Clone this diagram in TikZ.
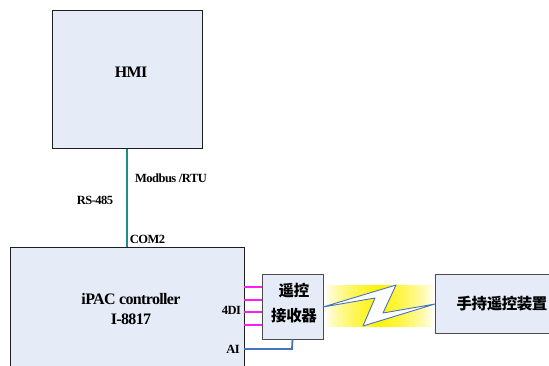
\documentclass[tikz,border=0pt]{standalone}
\usepackage{fontspec}
\setmainfont{Liberation Serif}[LetterSpace=-4]
\newfontfamily\cjk{Noto Sans CJK SC}[LetterSpace=-3]
\usetikzlibrary{positioning}
\definecolor{boxfill}{RGB}{230,236,247}
\definecolor{boxline}{RGB}{30,30,30}
\definecolor{softline}{RGB}{75,75,80}
\definecolor{busteal}{RGB}{30,140,135}
\definecolor{portpink}{RGB}{255,30,235}
\definecolor{boltblue}{RGB}{70,115,190}
\tikzstyle{devbox}=[draw=boxline, fill=boxfill, line width=1, inner sep=0]
\tikzstyle{title}=[inner sep=0, align=center, font=\bfseries\fontsize{16}{20}\selectfont]
\tikzstyle{cjktitle}=[inner sep=0, align=center, font=\cjk\bfseries\fontsize{15.5}{25}\selectfont]
\tikzstyle{tag}=[inner sep=0, font=\bfseries\fontsize{12.5}{12}\selectfont]
\tikzstyle{port}=[portpink, line width=1.8]

\begin{document}
\begin{tikzpicture}[x=1pt, y=-1pt]
    \useasboundingbox (0, 0) rectangle (549, 365) ;
    % boxes
    \node[devbox, minimum width=150, minimum height=138] (hmi) at (127, 79) {} ;
    \node[devbox, minimum width=234, minimum height=124] (ctrl) at (127, 309) {} ;
    \node[devbox, draw=softline, minimum width=61, minimum height=65] (recv) at (292.5, 306.5) {} ;
    \node[devbox, draw=softline, minimum width=116, minimum height=59] (remote) at (493, 303.5) {} ;
    \node[title] (hmitext) at (131, 72) {HMI} ;
    \node[title] (ctrltext) at (131, 309) {iPAC controller\\I-8817} ;
    \node[cjktitle] (recvtext) at (294, 303.5) {遥控\\接收器} ;
    \node[cjktitle] (remotetext) at (502, 304) {手持遥控装置} ;
    % radio link
    \foreach \i in {0,...,53} {
        \pgfmathsetmacro{\glow}{100*(1-abs(\i-26.5)/27)^0.7}
        \fill[yellow!\glow!white] (325+2*\i, 285) rectangle ++(2.5, 42) ;
    }
    \coordinate (boltstart) at (323, 307) ;
    \coordinate (boltend) at (435, 304) ;
    \draw[boltblue, fill=white, line width=0.9, line join=round] (boltstart) -- (396, 285) -- (383, 313) -- (boltend) -- (363, 326) -- (375, 298) -- cycle ;
    % wiring
    \draw[busteal, line width=1.5] (hmi.south) -- (ctrl.north) ;
    \foreach \i/\y in {a/287, b/300, c/312, d/325} {
        \coordinate (ctrl\i) at (244, \y) ;
        \coordinate (recv\i) at (262, \y) ;
        \draw[port] (ctrl\i) -- (recv\i) ;
    }
    \coordinate (ctrlai) at (244, 349) ;
    \draw[boltblue, line width=1.8] (ctrlai) -- (292, 349) -- (recv.south) ;
    % labels
    \node[tag] (rs) at (95, 200) {RS-485} ;
    \node[tag] (modbus) at (171, 178) {Modbus /RTU} ;
    \node[tag] (com) at (147.5, 239) {COM2} ;
    \node[tag] (di) at (231.5, 310) {4DI} ;
    \node[tag] (ai) at (233, 349) {AI} ;
\end{tikzpicture}
\end{document}
